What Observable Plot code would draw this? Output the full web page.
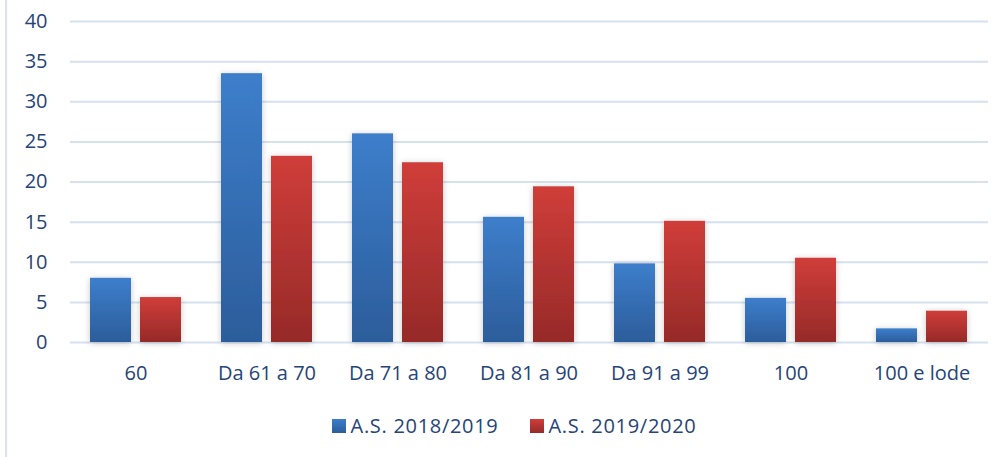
<!DOCTYPE html>
<html><head><meta charset="utf-8">
<script src="https://cdn.jsdelivr.net/npm/d3@7"></script>
<script src="https://cdn.jsdelivr.net/npm/@observablehq/plot@0.6"></script>
<style>
html,body{margin:0;padding:0;background:#fff;}
#wrap{position:relative;height:457px;border-left:2px solid #dae3f0;box-sizing:border-box;margin-left:5px;width:999px;overflow:hidden;}
#chart{position:absolute;left:-7px;top:0;}
#legend{position:absolute;top:412px;left:5px;width:1004px;display:flex;justify-content:center;gap:31px;font-family:"Open Sans",sans-serif;font-size:20px;letter-spacing:0.7px;color:#264478;}
#legend span.it{display:flex;align-items:center;}
#legend i{display:inline-block;width:14px;height:14px;margin-right:5px;}
</style></head>
<body><div id="wrap"><div id="chart"></div><div id="legend"></div></div>
<script>
const categories = ["60","Da 61 a 70","Da 71 a 80","Da 81 a 90","Da 91 a 99","100","100 e lode"];
const seriesNames = ["A.S. 2018/2019","A.S. 2019/2020"];
const values2018 = [8.0, 33.5, 26.0, 15.6, 9.8, 5.5, 1.7];
const values2020 = [5.6, 23.2, 22.4, 19.4, 15.1, 10.5, 3.9];
const yTicks = [0,5,10,15,20,25,30,35,40];
const gradients = [["gBlue","#3d7ecb","#2c5d9b"],["gRed","#d03d3a","#962a28"]];

const rows = [];
categories.forEach((c,i)=>{
  rows.push({cat:c, series:seriesNames[0], v:values2018[i]});
  rows.push({cat:c, series:seriesNames[1], v:values2020[i]});
});
const textColor = "#264478";
const chart = Plot.plot({
  width: 1004, height: 395,
  marginLeft: 70, marginRight: 16, marginTop: 21, marginBottom: 53,
  style: {fontFamily: "'Open Sans', sans-serif", fontSize: "20px", color: textColor, background: "transparent"},
  x: {domain: categories, paddingInner: 0.305, paddingOuter: 0.1525, label: null, tickSize: 0, tickPadding: 23},
  y: {domain: [0,40], ticks: yTicks, label: null, tickSize: 0, tickPadding: 23, grid: false},
  marks: [
    Plot.ruleY(yTicks, {stroke: "#d6e1f0", strokeWidth: 2, strokeOpacity: 1}),
    Plot.barY(rows.filter(d=>d.series===seriesNames[0]), {x:"cat", y:"v", fill:"url(#gBlue)", insetRight: 50}),
    Plot.barY(rows.filter(d=>d.series===seriesNames[1]), {x:"cat", y:"v", fill:"url(#gRed)", insetLeft: 50})
  ]
});
const svgNS = "http://www.w3.org/2000/svg";
const defs = document.createElementNS(svgNS, "defs");
gradients.forEach(([id,c1,c2])=>{
  const g = document.createElementNS(svgNS,"linearGradient");
  g.setAttribute("id",id); g.setAttribute("x1","0"); g.setAttribute("y1","0"); g.setAttribute("x2","0"); g.setAttribute("y2","1");
  [[0,c1],[1,c2]].forEach(([o,c])=>{const s=document.createElementNS(svgNS,"stop"); s.setAttribute("offset",o); s.setAttribute("stop-color",c); g.appendChild(s);});
  defs.appendChild(g);
});
const f = document.createElementNS(svgNS,"filter");
f.setAttribute("id","shadow"); f.setAttribute("x","-30%"); f.setAttribute("y","-10%"); f.setAttribute("width","160%"); f.setAttribute("height","130%");
f.innerHTML = '<feDropShadow dx="0" dy="1" stdDeviation="3" flood-color="#000" flood-opacity="0.22"/>';
defs.appendChild(f);
chart.insertBefore(defs, chart.firstChild);
chart.querySelectorAll("g[aria-label='bar']").forEach(g=>g.setAttribute("filter","url(#shadow)"));
chart.querySelectorAll("g[aria-label='x-axis tick label'] text, g[aria-label='y-axis tick label'] text").forEach(t=>t.setAttribute("fill",textColor));
document.getElementById("chart").appendChild(chart);

const legend = document.getElementById("legend");
seriesNames.forEach((n,i)=>{
  const s = document.createElement("span"); s.className="it";
  const sw = document.createElement("i");
  sw.style.background = `linear-gradient(${gradients[i][1]}, ${gradients[i][2]})`;
  s.appendChild(sw); s.appendChild(document.createTextNode(n));
  legend.appendChild(s);
});
</script></body></html>
